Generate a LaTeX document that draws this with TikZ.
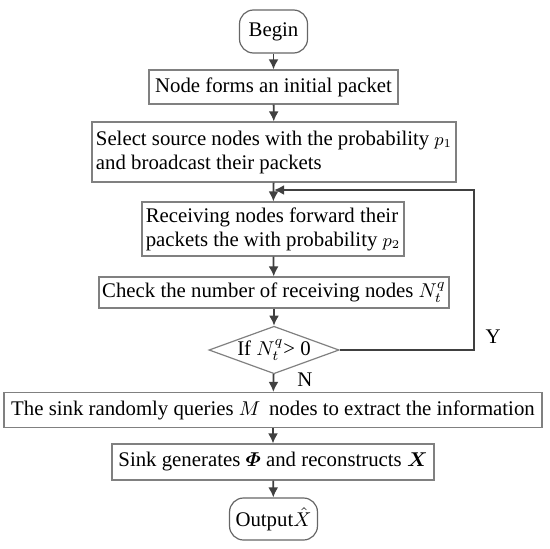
\documentclass[tikz,border=0pt]{standalone}
\usepackage{fontspec}
\setmainfont{Liberation Serif}
\usepackage{amsmath,amssymb}
\usepackage{bm}
\usetikzlibrary{shapes.geometric,arrows.meta}

\begin{document}
\begin{tikzpicture}[x=0.5pt, y=0.5pt,
  every node/.style={font=\rmfamily\fontsize{10.4pt}{12pt}\selectfont, inner sep=1.5pt},
  stepbox/.style={draw=black!50, line width=0.6pt},
  endbox/.style={draw=black!60, line width=0.6pt, rounded corners=7pt},
  testbox/.style={draw=black!50, line width=0.6pt, diamond, aspect=2.74, inner sep=0pt},
  flow/.style={black!75, line width=0.9pt, -{Latex[length=5pt,width=5pt]}},
  backflow/.style={black!75, line width=1.1pt, -{Latex[length=5pt,width=5pt]}}]

\useasboundingbox (0,0) rectangle (550,548);

% start and the first two steps
\node[endbox, minimum width=34pt, minimum height=21.5pt] (begin) at (273.5,516.5) {Begin};
\node[stepbox, minimum width=124.5pt, minimum height=17pt] (init) at (273.5,461) {Node forms an initial packet};
\node[stepbox, minimum width=182pt, minimum height=30pt, align=left] (select) at (274,396)
  {Select source nodes with the probability {\small$p_1$}\\and broadcast their packets};

% forwarding loop
\node[stepbox, minimum width=131pt, minimum height=27pt, align=left] (recv) at (273,319)
  {Receiving nodes forward their\\packets the with probability {\small$p_2$}};
\node[stepbox, minimum width=175pt, minimum height=15.5pt] (check) at (274,255.5) {Check the number of receiving nodes $N_t^q$};
\node[testbox, minimum width=63pt, minimum height=23pt] (cond) at (274,198) {If $N_t^q$> 0};

% reconstruction at the sink
\node[stepbox, minimum width=269pt, minimum height=17.5pt] (query) at (273,138) {The sink randomly queries $M$\, nodes to extract the information};
\node[stepbox, minimum width=161pt, minimum height=18pt] (recon) at (273,86) {Sink generates $\bm{\varPhi}$ and reconstructs $\bm{X}$};
\node[endbox, minimum width=41pt, minimum height=21pt, inner xsep=3pt] (output) at (273.5,29) {Output$\hat{X}$};

\node (yes) at (493,211) {Y};
\node (no) at (305,168) {N};

\draw[flow] (begin) -- (init);
\draw[flow] (init) -- (select);
\draw[flow] (select) -- (recv);
\draw[flow] (recv) -- (check);
\draw[flow] (check) -- (cond);
\draw[flow] (cond) -- (query);
\draw[flow] (query) -- (recon);
\draw[flow] (recon) -- (output);

%\draw[flow] (cond.east) -- (corner);
\coordinate (corner) at (474,358);
\coordinate (join) at (274,358);
\draw[backflow] (cond.east) -| (corner) -- (join);

\end{tikzpicture}
\end{document}
